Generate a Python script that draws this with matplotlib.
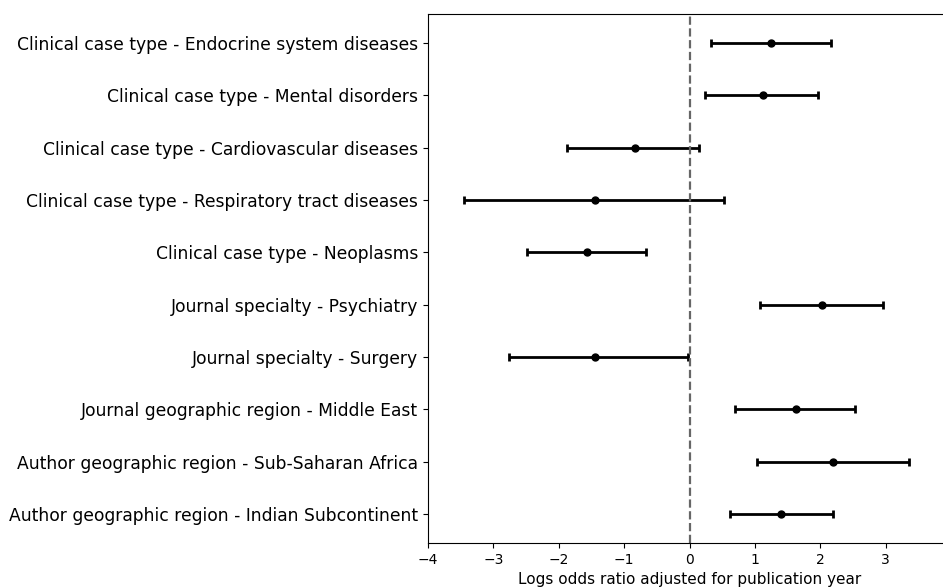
import numpy as np
import matplotlib
matplotlib.use("Agg")
import matplotlib.pyplot as plt

# forest plot of log odds ratios (top to bottom)
labels = [
    "Clinical case type - Endocrine system diseases",
    "Clinical case type - Mental disorders",
    "Clinical case type - Cardiovascular diseases",
    "Clinical case type - Respiratory tract diseases",
    "Clinical case type - Neoplasms",
    "Journal specialty - Psychiatry",
    "Journal specialty - Surgery",
    "Journal geographic region - Middle East",
    "Author geographic region - Sub-Saharan Africa",
    "Author geographic region - Indian Subcontinent",
]
estimate = [1.25, 1.12, -0.84, -1.44, -1.57, 2.03, -1.44, 1.62, 2.20, 1.40]
ci_low = [0.33, 0.24, -1.87, -3.45, -2.48, 1.08, -2.76, 0.69, 1.03, 0.61]
ci_high = [2.16, 1.97, 0.15, 0.52, -0.67, 2.95, -0.03, 2.53, 3.36, 2.19]

est = np.array(estimate)
err = np.array([est - np.array(ci_low), np.array(ci_high) - est])
y = np.arange(len(labels))[::-1]

fig = plt.figure(figsize=(9.43, 5.88), dpi=100)
ax = fig.add_axes([0.4539, 0.0765, 0.5548, 0.8997])

ax.errorbar(est, y, xerr=err, fmt="o", color="black", ecolor="black",
            markersize=5, elinewidth=2, capsize=3, capthick=2)
ax.axvline(0, color="#666666", linestyle="--", linewidth=1.6)

ax.set_yticks(y)
ax.set_yticklabels(labels, fontsize=12.3)
ax.set_xlim(-4, 4)
ax.set_ylim(-0.55, len(labels) - 1 + 0.55)
ax.set_xticks([-4, -3, -2, -1, 0, 1, 2, 3])
ax.tick_params(axis="x", labelsize=10)
ax.set_xlabel("Logs odds ratio adjusted for publication year", fontsize=11)

fig.savefig("out.png", dpi=100)
